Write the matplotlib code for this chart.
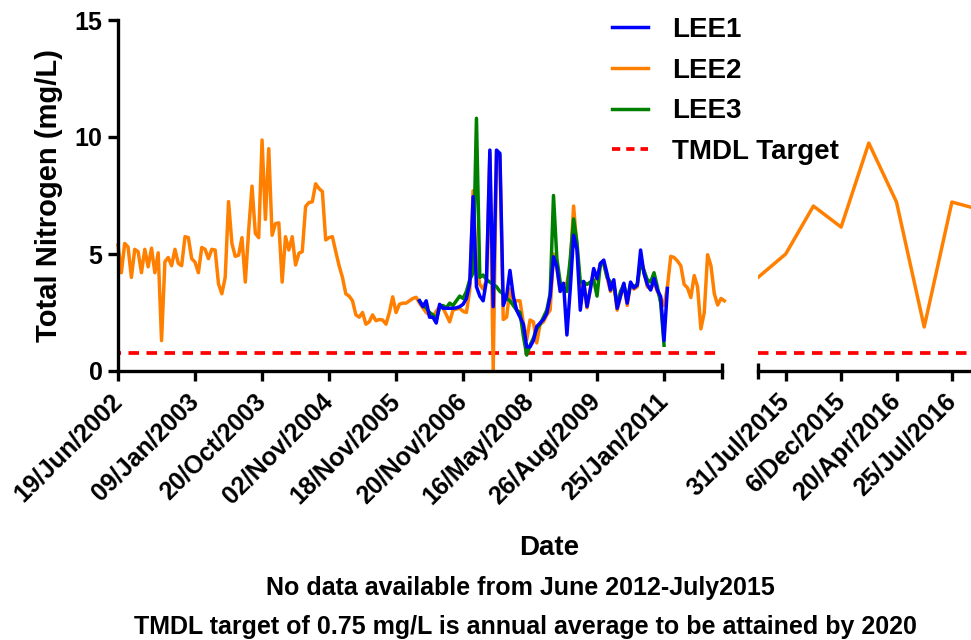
import matplotlib
matplotlib.use("Agg")
import matplotlib.pyplot as plt
from matplotlib.lines import Line2D

plt.rcParams['font.family'] = ['Liberation Sans', 'DejaVu Sans']
plt.rcParams['font.weight'] = 'bold'

# LEE2 record 2002-2012, one value per sample (categorical x axis)
lee2_early = [
    5.38, 4.2, 5.45, 5.3, 4.0, 5.2, 5.1, 4.2, 5.2, 4.45,
    5.25, 4.2, 5.05, 1.3, 4.67, 4.85, 4.5, 5.2, 4.6, 4.5,
    5.74, 5.7, 4.8, 4.65, 4.2, 5.28, 5.2, 4.8, 5.2, 5.17,
    3.72, 3.3, 4.0, 7.24, 5.45, 4.9, 4.95, 5.7, 3.8, 6.0,
    7.9, 5.88, 5.7, 9.87, 6.48, 9.5, 5.8, 6.3, 6.33, 3.8,
    5.74, 5.17, 5.74, 4.53, 5.03, 5.1, 7.03, 7.2, 7.23, 8.0,
    7.8, 7.67, 5.6, 5.7, 5.74, 5.1, 4.5, 4.0, 3.3, 3.2,
    3.0, 2.4, 2.3, 2.5, 2.0, 2.1, 2.4, 2.15, 2.2, 2.18,
    2.0, 2.5, 3.17, 2.5, 2.85, 2.9, 2.9, 3.0, 3.1, 3.15,
    2.9, 2.7, 2.5, 2.4, 2.3, 2.55, 2.75, 2.7, 2.4, 2.1,
    2.6, 2.65, 2.68, 2.55, 2.5, 3.45, 7.7, 4.5, 3.7, 3.5,
    3.9, 9.3, 0.05, 9.4, 9.2, 2.2, 2.3, 3.5, 3.0, 3.0,
    3.0, 2.03, 1.33, 2.18, 2.1, 1.2, 2.0, 2.1, 2.4, 2.6,
    5.0, 4.4, 3.4, 3.7, 3.75, 4.5, 7.05, 5.3, 3.3, 3.8,
    2.7, 3.5, 4.3, 3.9, 4.5, 4.6, 4.0, 3.4, 3.7, 2.6,
    3.2, 3.7, 2.8, 3.7, 3.5, 3.6, 4.8, 4.3, 3.6, 3.5,
    3.8, 3.4, 3.1, 2.8, 3.6, 4.9, 4.85, 4.7, 4.5, 3.7,
    3.55, 3.14, 4.08, 3.6, 1.8, 2.5, 4.97, 4.5, 3.3, 2.82,
    3.1, 3.0,
]

# LEE1 and LEE3 start at sample 90
lee_start = 90
lee1 = [
    3.0, 2.75, 3.0, 2.3, 2.3, 2.05, 2.85, 2.68, 2.68, 2.68,
    2.68, 2.7, 2.75, 2.85, 3.1, 3.74, 7.45, 3.6, 3.2, 3.0,
    3.89, 9.44, 2.75, 9.44, 9.3, 2.8, 3.2, 4.3, 3.2, 2.6,
    2.3, 2.0, 1.03, 1.03, 1.3, 1.9, 2.05, 2.2, 2.46, 3.2,
    4.88, 4.46, 3.4, 3.75, 1.54, 3.5, 5.8, 5.2, 2.6, 3.83,
    2.75, 3.5, 4.38, 3.95, 4.6, 4.74, 4.15, 3.46, 3.9, 2.68,
    3.2, 3.75, 2.9, 3.8, 3.55, 3.67, 5.17, 4.17, 3.7, 3.46,
    3.95, 3.46, 3.18, 1.3, 3.53,
]
lee3 = [
    3.0, 2.8, 2.7, 2.5, 2.4, 2.2, 2.7, 2.8, 2.7, 2.9,
    2.8, 3.0, 3.2, 3.1, 3.4, 3.9, 4.2, 10.8, 4.0, 4.1,
    3.9, 3.8, 3.7, 3.6, 3.4, 3.3, 3.1, 3.0, 2.8, 2.6,
    2.5, 1.5, 0.68, 1.1, 1.4, 1.8, 2.0, 2.3, 2.6, 3.3,
    7.5, 4.8, 3.8, 3.6, 3.4, 4.8, 6.5, 5.5, 3.8, 3.8,
    3.7, 3.8, 3.9, 3.2, 4.6, 4.6, 4.0, 3.8, 3.7, 2.8,
    3.4, 3.7, 3.0, 3.7, 3.6, 3.7, 4.6, 4.3, 3.9, 3.8,
    4.2, 3.6, 2.9, 1.1,
]

left_ticks = [0, 23, 43, 63, 83, 103, 123, 143, 163]
left_labels = ['19/Jun/2002', '09/Jan/2003', '20/Oct/2003', '02/Nov/2004',
               '18/Nov/2005', '20/Nov/2006', '16/May/2008', '26/Aug/2009',
               '25/Jan/2011']

# LEE2 record 2015-2016
lee2_late = [4.0, 5.0, 7.05, 6.15, 9.74, 7.22, 1.88, 7.22, 6.9]
right_ticks = [1, 3, 5, 7]
right_labels = ['31/Jul/2015', '6/Dec/2015', '20/Apr/2016', '25/Jul/2016']

tmdl = 0.75

BLUE = '#0000FF'
ORANGE = '#FF8000'
GREEN = '#008000'
RED = '#FF0000'
LW = 2.5
DASH = (2.0, (2.8, 2.0))

fig = plt.figure(figsize=(9.71, 6.4), dpi=100)
W, H = 971.0, 640.0
bottom = (H - 371) / H
height = (371 - 20) / H
ax1 = fig.add_axes([118 / W, bottom, (722 - 118) / W, height])
ax2 = fig.add_axes([758 / W, bottom, (990 - 758) / W, height])

x_early = list(range(len(lee2_early)))
x_lee1 = [lee_start + i for i in range(len(lee1))]
x_lee3 = [lee_start + i for i in range(len(lee3))]
ax1.plot(x_early, lee2_early, color=ORANGE, lw=LW, zorder=2, clip_on=False)
ax1.plot(x_lee3, lee3, color=GREEN, lw=LW, zorder=3)
ax1.plot(x_lee1, lee1, color=BLUE, lw=LW, zorder=4)
ax1.axhline(tmdl, color=RED, lw=2.7, linestyle=DASH, zorder=1)

ax2.plot(range(len(lee2_late)), lee2_late, color=ORANGE, lw=LW, zorder=2)
ax2.axhline(tmdl, color=RED, lw=2.7, linestyle=(0, (2.8, 2.0)), zorder=1)

ax1.set_xlim(0, (722 - 118) / 3.35)
ax2.set_xlim(0, (990 - 758) / 27.7)
for ax in (ax1, ax2):
    ax.set_ylim(0, 15)
    ax.spines['top'].set_visible(False)
    ax.spines['right'].set_visible(False)
    for s in ax.spines.values():
        s.set_linewidth(2.4)
    ax.tick_params(axis='both', width=2.4, length=7.2, labelsize=18)
    ax.tick_params(axis='x', pad=12)

ax1.set_yticks([0, 5, 10, 15])
ax1.tick_params(axis='y', pad=4)
ax2.spines['left'].set_visible(False)
ax2.set_yticks([])

ax1.set_xticks(left_ticks)
ax1.set_xticklabels(left_labels, rotation=45, ha='right', va='center',
                    rotation_mode='anchor')
ax1.set_xticks([ax1.get_xlim()[1]], minor=True)
ax1.tick_params(axis='x', which='minor', direction='inout', length=12, width=2.4)

ax2.set_xticks(right_ticks)
ax2.set_xticklabels(right_labels, rotation=45, ha='right', va='center',
                    rotation_mode='anchor')
ax2.set_xticks([0], minor=True)
ax2.tick_params(axis='x', which='minor', direction='inout', length=12, width=2.4)

fig.text(49 / W, 1 - 196 / H, 'Total Nitrogen (mg/L)', rotation=90,
         ha='center', va='center', fontsize=21)
fig.text(549 / W, 1 - 548 / H, 'Date', ha='center', va='center', fontsize=20)
fig.text(520 / W, 1 - 588 / H, 'No data available from June 2012-July2015',
         ha='center', va='center', fontsize=18)
fig.text(525 / W, 1 - 627 / H,
         'TMDL target of 0.75 mg/L is annual average to be attained by 2020',
         ha='center', va='center', fontsize=18)

handles = [Line2D([], [], color=BLUE, lw=LW),
           Line2D([], [], color=ORANGE, lw=LW),
           Line2D([], [], color=GREEN, lw=LW),
           Line2D([], [], color=RED, lw=2.7, linestyle=(0, (2.2, 1.6)))]
fig.legend(handles, ['LEE1', 'LEE2', 'LEE3', 'TMDL Target'],
           loc='upper left', bbox_to_anchor=(612 / W, 1 - 17 / H),
           frameon=False, fontsize=20, handlelength=1.3, handletextpad=0.85,
           labelspacing=0.53, borderpad=0, borderaxespad=0)

fig.savefig('out.png', dpi=100)
